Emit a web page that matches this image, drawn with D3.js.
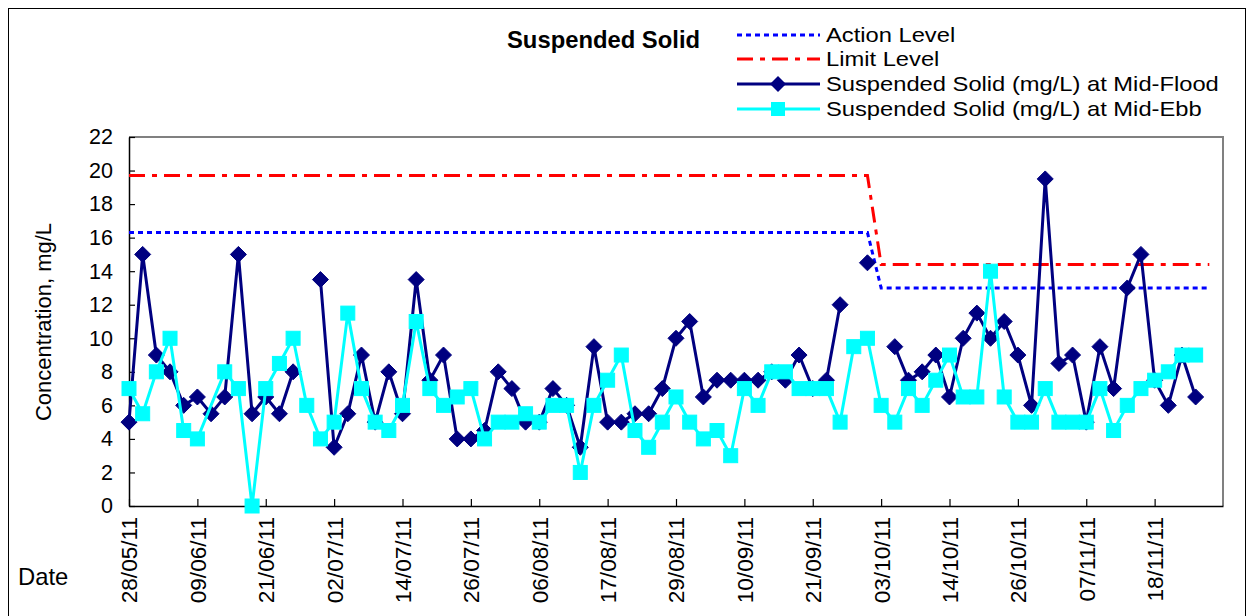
<!DOCTYPE html>
<html><head><meta charset="utf-8">
<script src="https://cdn.jsdelivr.net/npm/d3@7"></script>
<style>body{margin:0;background:#fff} text{font-family:Arial,"Liberation Sans",sans-serif;fill:#000}</style>
</head><body>
<svg id="c" width="1254" height="616"></svg>
<script>
const categories = [
"28/05/11","31/05/11","02/06/11","04/06/11","07/06/11",
"09/06/11","11/06/11","14/06/11","16/06/11","18/06/11",
"21/06/11","23/06/11","25/06/11","28/06/11","30/06/11",
"02/07/11","05/07/11","07/07/11","09/07/11","12/07/11",
"14/07/11","16/07/11","19/07/11","21/07/11","23/07/11",
"26/07/11","28/07/11","30/07/11","02/08/11","04/08/11",
"06/08/11","09/08/11","11/08/11","13/08/11","15/08/11",
"17/08/11","19/08/11","22/08/11","24/08/11","26/08/11",
"29/08/11","31/08/11","03/09/11","05/09/11","08/09/11",
"10/09/11","13/09/11","15/09/11","17/09/11","19/09/11",
"21/09/11","23/09/11","26/09/11","28/09/11","30/09/11",
"03/10/11","05/10/11","07/10/11","10/10/11","12/10/11",
"14/10/11","17/10/11","19/10/11","21/10/11","24/10/11",
"26/10/11","28/10/11","31/10/11","02/11/11","04/11/11",
"07/11/11","09/11/11","11/11/11","14/11/11","16/11/11",
"18/11/11","21/11/11","23/11/11","25/11/11","28/11/11",
"30/11/11"];

const floodValues = [5,15,9,8,6, 6.5,5.5,6.5,15,5.5, 6.5,5.5,8,null,13.5, 3.5,5.5,9,5,8,
 5.5,13.5,7.5,9,4, 4,4.5,8,7,5, 5,7,6,3.5,9.5, 5,5,5.5,5.5,7, 10,11,6.5,7.5,7.5,
 7.5,7.5,8,7.5,9, 7,7.5,12,null,14.5, null,9.5,7.5,8,9, 6.5,10,11.5,10,11,
 9,6,19.5,8.5,9, 5,9.5,7,13,15, 7.5,6,9,6.5];

const ebbValues = [7,5.5,8,10,4.5, 4,null,8,7,0, 7,8.5,10,6,4, 5,11.5,7,5,4.5,
 6,11,7,6,6.5, 7,4,5,5,5.5, 5,6,6,2,6, 7.5,9,4.5,3.5,5, 6.5,5,4,4.5,3,
 7,6,8,8,7, 7,7,5,9.5,10, 6,5,7,6,7.5, 9,6.5,6.5,14,6.5, 5,5,7,5,5,
 5,7,4.5,6,7, 7.5,8,9,9];

const actionLevel = [16.3,16.3,16.3,16.3,16.3, 16.3,16.3,16.3,16.3,16.3, 16.3,16.3,16.3,16.3,16.3,
 16.3,16.3,16.3,16.3,16.3, 16.3,16.3,16.3,16.3,16.3, 16.3,16.3,16.3,16.3,16.3,
 16.3,16.3,16.3,16.3,16.3, 16.3,16.3,16.3,16.3,16.3, 16.3,16.3,16.3,16.3,16.3,
 16.3,16.3,16.3,16.3,16.3, 16.3,16.3,16.3,16.3,16.3,
 13,13,13,13,13, 13,13,13,13,13, 13,13,13,13,13, 13,13,13,13,13, 13,13,13,13,13];

const limitLevel = [19.7,19.7,19.7,19.7,19.7, 19.7,19.7,19.7,19.7,19.7, 19.7,19.7,19.7,19.7,19.7,
 19.7,19.7,19.7,19.7,19.7, 19.7,19.7,19.7,19.7,19.7, 19.7,19.7,19.7,19.7,19.7,
 19.7,19.7,19.7,19.7,19.7, 19.7,19.7,19.7,19.7,19.7, 19.7,19.7,19.7,19.7,19.7,
 19.7,19.7,19.7,19.7,19.7, 19.7,19.7,19.7,19.7,19.7,
 14.4,14.4,14.4,14.4,14.4, 14.4,14.4,14.4,14.4,14.4, 14.4,14.4,14.4,14.4,14.4,
 14.4,14.4,14.4,14.4,14.4, 14.4,14.4,14.4,14.4,14.4];

const yTicks = [0,2,4,6,8,10,12,14,16,18,20,22];
const xTickLabels = ["28/05/11","09/06/11","21/06/11","02/07/11","14/07/11","26/07/11","06/08/11",
 "17/08/11","29/08/11","10/09/11","21/09/11","03/10/11","14/10/11","26/10/11","07/11/11","18/11/11"];

const legendItems = ["Action Level","Limit Level","Suspended Solid (mg/L) at Mid-Flood","Suspended Solid (mg/L) at Mid-Ebb"];

const svg = d3.select("#c");
svg.append("rect").attr("width",1254).attr("height",616).attr("fill","#fff");
svg.append("rect").attr("x",8.5).attr("y",8.5).attr("width",1237).attr("height",640)
  .attr("fill","none").attr("stroke","#000").attr("stroke-width",1);

const L=129, R=1223, T=137, B=506;
const x = d3.scalePoint().domain(categories).range([L,R]);
const y = d3.scaleLinear().domain([0,22]).range([B,T]);

svg.append("path").attr("d",`M${L},${T}H${R}V${B}`).attr("fill","none").attr("stroke","#808080").attr("stroke-width",2);

const gy = svg.append("g").attr("transform",`translate(${L},0)`)
  .call(d3.axisLeft(y).tickValues(yTicks).tickSize(-6).tickSizeOuter(0).tickPadding(16));
gy.select(".domain").attr("stroke","#000").attr("stroke-width",1.5);
gy.selectAll(".tick line").attr("stroke","#000").attr("stroke-width",1.2);
gy.selectAll(".tick text").attr("font-size","21.5px").attr("font-family","Arial, 'Liberation Sans', sans-serif").attr("fill","#000");

const gx = svg.append("g").attr("transform",`translate(0,${B})`)
  .call(d3.axisBottom(x).tickValues(xTickLabels).tickSize(-7).tickSizeOuter(0));
gx.select(".domain").attr("stroke","#000").attr("stroke-width",1.5);
gx.selectAll(".tick line").attr("stroke","#000").attr("stroke-width",1.2);
gx.selectAll(".tick text").attr("font-size","22.6px").attr("font-family","Arial, 'Liberation Sans', sans-serif").attr("fill","#000")
  .attr("y",0).attr("x",-11).attr("dy","0.35em").attr("transform","rotate(-90)").attr("text-anchor","end");

const lineGen = d3.line().defined(d=>d!=null).x((d,i)=>x(categories[i])).y(d=>y(d));

svg.append("path").datum(actionLevel).attr("d",lineGen).attr("fill","none")
  .attr("stroke","#0000FF").attr("stroke-width",3).attr("stroke-dasharray","5,4");
svg.append("path").datum(limitLevel).attr("d",lineGen).attr("fill","none")
  .attr("stroke","#FF0000").attr("stroke-width",3).attr("stroke-dasharray","16,7,5,7");

svg.append("path").datum(floodValues).attr("d",lineGen).attr("fill","none")
  .attr("stroke","#000080").attr("stroke-width",3);
const floodPts = floodValues.map((v,i)=>({c:categories[i],v})).filter(d=>d.v!=null);
svg.append("g").selectAll("path").data(floodPts).join("path")
  .attr("transform",d=>`translate(${x(d.c)},${y(d.v)})`)
  .attr("d","M0,-8L8,0L0,8L-8,0Z").attr("fill","#000080").attr("stroke","#000080").attr("stroke-width",1);

const ebbPts = ebbValues.map((v,i)=>({c:categories[i],v})).filter(d=>d.v!=null);
svg.append("path").datum(ebbPts).attr("d",d3.line().x(d=>x(d.c)).y(d=>y(d.v))).attr("fill","none")
  .attr("stroke","#00FFFF").attr("stroke-width",3);
svg.append("g").selectAll("rect").data(ebbPts).join("rect")
  .attr("x",d=>x(d.c)-7).attr("y",d=>y(d.v)-7).attr("width",14).attr("height",14)
  .attr("fill","#00FFFF").attr("stroke","#00FFFF").attr("stroke-width",1);

svg.append("text").attr("x",507).attr("y",40).attr("dy","0.35em").attr("font-size","23.8px").attr("font-weight","bold").text("Suspended Solid");
svg.append("text").attr("transform","translate(43,322) rotate(-90)").attr("text-anchor","middle").attr("dy","0.35em").attr("font-size","22px").text("Concentration, mg/L");
svg.append("text").attr("x",18).attr("y",577).attr("dy","0.35em").attr("font-size","23.8px").text("Date");

const rowsY = [35,59,84,109];
const lg = svg.append("g");
legendItems.forEach((t,i)=>{
  const yy = rowsY[i];
  const ln = lg.append("line").attr("x1",737).attr("x2",820).attr("y1",yy).attr("y2",yy).attr("stroke-width",3);
  if(i===0) ln.attr("stroke","#0000FF").attr("stroke-dasharray","5,4");
  if(i===1) ln.attr("stroke","#FF0000").attr("stroke-dasharray","16,7,5,7");
  if(i===2){ ln.attr("stroke","#000080");
    lg.append("path").attr("transform",`translate(778,${yy})`).attr("d","M0,-8L8,0L0,8L-8,0Z").attr("fill","#000080"); }
  if(i===3){ ln.attr("stroke","#00FFFF");
    lg.append("rect").attr("x",771).attr("y",yy-7).attr("width",14).attr("height",14).attr("fill","#00FFFF"); }
  lg.append("text").attr("transform",`translate(826,${yy}) scale(1.13,1)`).attr("dy","0.35em").attr("font-size","21px").text(t);
});
</script>
</body></html>
